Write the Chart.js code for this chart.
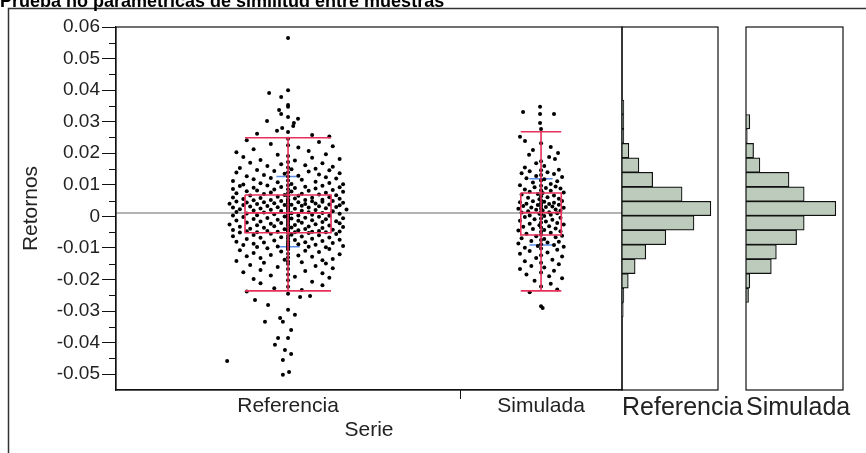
<!DOCTYPE html>
<html>
<head>
<meta charset="utf-8">
<script src="https://cdn.jsdelivr.net/npm/chart.js@4.4.1/dist/chart.umd.min.js"></script>
<style>
	body { margin: 0; background: #fff; }
	#wrap { position: relative; width: 866px; height: 453px; overflow: hidden; }
	canvas { position: absolute; }
</style>
</head>
<body>
<div id="wrap">
	<canvas id="main" width="866" height="453" style="left:0;top:0"></canvas>
	<canvas id="histRef" width="100" height="367" style="left:620px;top:25px"></canvas>
	<canvas id="histSim" width="101" height="367" style="left:744px;top:25px"></canvas>
</div>
<script>
var titleText = 'Prueba no paramétricas de similitud entre muestras';
var categories = ['Referencia', 'Simulada'];
var groupShare = [0.68, 0.32];
var yTicks = [0.06, 0.05, 0.04, 0.03, 0.02, 0.01, 0, -0.01, -0.02, -0.03, -0.04, -0.05];
var yMin = -0.055, yMax = 0.06;

// box plot stats per serie
var q1 = [-0.0052, -0.0059];
var median = [0.0011, 0.0012];
var q3 = [0.0068, 0.0074];
var whiskerLow = [-0.0236, -0.0236];
var whiskerHigh = [0.0249, 0.0268];
var means = [0.0015, 0.0014];
var stdDevs = [0.0111, 0.0105];
var grandMean = 0.0011;

// histogram bins (lower edge) and counts
var histBins = [-0.035, -0.03, -0.025, -0.02, -0.015, -0.01, -0.005, 0, 0.005, 0.01, 0.015, 0.02, 0.025, 0.03, 0.035];
var histRefCounts = [2, 3, 10, 21, 38, 70, 115, 142, 96, 49, 27, 11, 3, 3, 3];
var histSimCounts = [0, 2, 3, 20, 24, 40, 46, 71, 46, 34, 11, 6, 1, 3, 0];
var binWidth = 0.005;

// [jitter, retorno]
var refPoints = [
	[0,0.0565],[-0.055,0.0391],[-0.02,0.0378],[0,0.0400],[0,0.0353],[0,0.0347],[-0.026,0.0337],[-0.02,0.0324],
	[0,0.0315],[-0.061,0.0302],[0.029,0.0309],[0.017,0.0296],[0.015,0.0286],[-0.017,0.0280],[-0.032,0.0271],[0,0.0267],
	[-0.09,0.0262],[0.07,0.0258],[0.12,0.0253],
	[-0.12,0.0241],[0.09,0.0236],[0,0.0246],[-0.05,0.0229],[0.13,0.0222],[0.03,0.0218],[-0.1,0.0213],[0,0.0225],[0.06,0.0207],[-0.15,0.0203],
	[0.11,0.0197],[-0.03,0.0195],[0,0.0191],[-0.13,0.0188],[0.07,0.0186],[0.15,0.0182],[-0.08,0.0179],[0.02,0.0177],[0,0.0172],
	[-0.11,0.0170],[0.1,0.0168],[-0.02,0.0165],[0.05,0.0162],[-0.06,0.0160],[0.13,0.0157],[0,0.0155],[-0.14,0.0153],[0.08,0.0151],
	[0.01,0.0149],[-0.09,0.0147],[0.12,0.0146],[-0.04,0.0144],[0.06,0.0142],[0,0.0140],[-0.15,0.0139],[0.15,0.0137],[-0.01,0.0135],
	[0.09,0.0133],[-0.07,0.0131],[0.03,0.0129],[-0.12,0.0127],[0,0.0126],[0.11,0.0124],[-0.05,0.0122],[0.14,0.0120],[-0.1,0.0118],
	[0.04,0.0116],[0,0.0114],[-0.16,0.0112],[0.08,0.0110],[-0.03,0.0108],[0.12,0.0106],[-0.08,0.0105],[0.01,0.0103],[0.16,0.0102],[-0.13,0.0101],
	[0,0.0099],[-0.06,0.0098],[0.1,0.0097],[-0.14,0.0096],[0.05,0.0094],[-0.02,0.0093],[0.15,0.0092],[-0.1,0.0091],[0.02,0.0090],
	[0.08,0.0088],[-0.16,0.0087],[0,0.0086],[-0.04,0.0085],[0.13,0.0084],[-0.09,0.0082],[0.06,0.0081],[-0.12,0.0080],[0.01,0.0079],
	[0.16,0.0078],[-0.05,0.0076],[0.11,0.0075],[0,0.0074],[-0.15,0.0073],[0.04,0.0072],[-0.07,0.0071],[0.09,0.0069],[-0.01,0.0068],
	[0.14,0.0067],[-0.11,0.0066],[0.03,0.0065],[0,0.0064],[-0.03,0.0062],[0.12,0.0061],[-0.16,0.0060],[0.07,0.0059],[-0.08,0.0058],
	[0.02,0.0057],[0.15,0.0056],[-0.13,0.0055],[0,0.0054],[0.1,0.0053],[-0.05,0.0052],[0.05,0.0052],[-0.1,0.0051],[0,0.0050],
	[0.13,0.0049],[-0.02,0.0049],[0.07,0.0048],[-0.15,0.0047],[0,0.0047],[0.1,0.0046],[-0.07,0.0045],[0.03,0.0045],[-0.12,0.0044],
	[0.16,0.0043],[0,0.0042],[-0.04,0.0042],[0.08,0.0041],[-0.17,0.0040],[0.05,0.0039],[-0.09,0.0039],[0.12,0.0038],[0.01,0.0037],
	[-0.01,0.0036],[-0.13,0.0036],[0.15,0.0035],[0.04,0.0034],[-0.06,0.0033],[0,0.0033],[0.09,0.0032],[-0.11,0.0031],[0.14,0.0030],
	[-0.03,0.0029],[0.06,0.0028],[-0.16,0.0028],[0,0.0027],[0.11,0.0026],[-0.08,0.0025],[0.02,0.0024],[-0.14,0.0023],[0.17,0.0022],
	[0,0.0022],[-0.05,0.0021],[0.08,0.0020],[-0.1,0.0019],[0.04,0.0018],[-0.02,0.0017],[0.13,0.0016],[0,0.0015],[-0.15,0.0014],
	[0.06,0.0013],[-0.07,0.0012],[0.1,0.0011],[0.01,0.0010],[-0.12,0.0009],[0.15,0.0008],[-0.04,0.0007],[0,0.0006],[0.07,0.0005],
	[-0.09,0.0004],[0.03,0.0003],[-0.16,0.0003],[0.12,0.0002],[0,0.0001],[-0.01,0.0000],
	[0.09,-0.0001],[-0.13,-0.0002],[0,-0.0003],[0.05,-0.0004],[-0.06,-0.0005],[0.16,-0.0006],[0.01,-0.0007],[-0.1,-0.0008],[0.11,-0.0009],
	[0,-0.0010],[-0.03,-0.0011],[0.07,-0.0012],[-0.15,-0.0013],[0.03,-0.0014],[0.14,-0.0015],[-0.08,-0.0016],[0,-0.0017],[0.1,-0.0018],
	[-0.12,-0.0019],[0.04,-0.0020],[-0.02,-0.0021],[0.15,-0.0022],[-0.05,-0.0023],[0,-0.0024],[0.08,-0.0025],[-0.17,-0.0026],[0.02,-0.0027],
	[-0.09,-0.0028],[0.12,-0.0029],[0,-0.0030],[-0.04,-0.0031],[0.06,-0.0032],[-0.14,-0.0033],[0.16,-0.0034],[0.01,-0.0035],[-0.07,-0.0036],
	[0.1,-0.0037],[0,-0.0038],[-0.11,-0.0039],[0.05,-0.0040],[-0.01,-0.0041],[0.13,-0.0042],[-0.16,-0.0043],[0.03,-0.0044],[0,-0.0045],
	[-0.06,-0.0046],[0.09,-0.0046],[-0.12,-0.0047],[0.15,-0.0048],[0,-0.0048],[-0.03,-0.0049],[0.07,-0.0049],[-0.09,-0.0050],[0.11,-0.0050],[0.02,-0.0050],
	[-0.14,-0.0051],[0,-0.0052],[0.06,-0.0053],[-0.05,-0.0055],[0.14,-0.0056],[0.01,-0.0058],[-0.1,-0.0059],[0.09,-0.0060],[0,-0.0062],
	[-0.16,-0.0063],[0.04,-0.0064],[-0.02,-0.0066],[0.12,-0.0067],[-0.08,-0.0068],[0,-0.0070],[0.07,-0.0071],[-0.12,-0.0072],[0.15,-0.0074],
	[0.02,-0.0075],[-0.04,-0.0076],[0.1,-0.0078],[0,-0.0079],[-0.15,-0.0080],[0.05,-0.0082],[-0.07,-0.0083],[0.13,-0.0084],[0,-0.0086],
	[-0.1,-0.0087],[0.03,-0.0088],[0.08,-0.0090],[-0.13,-0.0091],[0,-0.0092],[0.16,-0.0094],[-0.03,-0.0095],[0.06,-0.0096],[-0.09,-0.0097],
	[0.11,-0.0098],[0,-0.0099],
	[-0.06,-0.0101],[0.12,-0.0103],[0,-0.0105],[-0.14,-0.0107],[0.05,-0.0109],[-0.02,-0.0111],[0.09,-0.0113],[-0.1,-0.0116],[0,-0.0118],
	[0.15,-0.0120],[-0.05,-0.0122],[0.03,-0.0124],[-0.12,-0.0126],[0.07,-0.0128],[0,-0.0130],[-0.08,-0.0132],[0.13,-0.0135],[-0.01,-0.0137],
	[0.1,-0.0139],[-0.15,-0.0141],[0,-0.0143],[0.04,-0.0145],[-0.07,-0.0147],[0.11,-0.0149],
	[0,-0.0151],[-0.11,-0.0154],[0.08,-0.0157],[-0.03,-0.0160],[0.13,-0.0164],[0,-0.0167],[-0.08,-0.0170],[0.05,-0.0173],[-0.13,-0.0177],
	[0.1,-0.0180],[0,-0.0184],[-0.05,-0.0187],[0.02,-0.0191],[0.12,-0.0194],[-0.1,-0.0198],
	[0,-0.0202],[0.07,-0.0207],[-0.08,-0.0212],[0.1,-0.0218],[0,-0.0223],[-0.04,-0.0228],[0.04,-0.0233],[-0.12,-0.0238],[0,-0.0245],
	[-0.096,-0.0265],[0.035,-0.0255],[-0.058,-0.0281],[0,-0.0296],[-0.023,-0.0322],[-0.067,-0.0334],[-0.015,-0.0334],[0.009,-0.0360],
	[-0.029,-0.0385],[0,-0.0385],[-0.038,-0.0407],[-0.009,-0.0423],[0.009,-0.0436],[-0.015,-0.0455],[-0.177,-0.0458],[0.003,-0.0493],
	[-0.015,-0.0502],[0.064,-0.0252],[0.02,-0.0312]
];

var simPoints = [
	[-0.006,0.0347],[-0.111,0.0331],[-0.006,0.0324],[0.08,0.0324],[-0.006,0.0296],[0,0.0277],[-0.13,0.0252],[-0.099,0.0239],
	[0,0.0232],[0.06,0.0220],[-0.05,0.0210],[-0.074,0.0195],[0.105,0.0201],[0.05,0.0188],[0.086,0.0182],
	[0,0.0175],[-0.03,0.0168],[0.02,0.0160],[-0.1,0.0155],
	[0.11,0.0148],[0,0.0146],[-0.07,0.0143],[0.04,0.0140],[-0.12,0.0137],[0.08,0.0134],[0,0.0131],[-0.03,0.0128],
	[0.13,0.0125],[-0.09,0.0121],[0.02,0.0118],[0,0.0114],[0.1,0.0111],[-0.05,0.0107],[0.06,0.0103],
	[-0.13,0.0099],[0,0.0097],[0.09,0.0095],[-0.04,0.0092],[0.03,0.0090],[0.12,0.0088],[-0.1,0.0085],[0,0.0083],[0.06,0.0081],
	[-0.07,0.0078],[0.14,0.0076],[0.01,0.0074],[-0.02,0.0071],[-0.12,0.0069],[0.08,0.0066],[0,0.0064],[0.04,0.0061],[-0.08,0.0059],
	[0.11,0.0056],[-0.01,0.0054],[0,0.0051],
	[0.13,0.0049],[-0.05,0.0048],[0.02,0.0046],[-0.13,0.0045],[0.08,0.0043],[0,0.0042],[-0.09,0.0040],[0.05,0.0039],[0.11,0.0037],
	[-0.02,0.0036],[0,0.0034],[-0.11,0.0033],[0.07,0.0031],[0.03,0.0030],[-0.06,0.0028],[0.14,0.0027],[0,0.0025],[-0.14,0.0024],
	[0.09,0.0022],[-0.03,0.0021],[0.01,0.0019],[0.12,0.0018],[-0.08,0.0016],[0,0.0015],[0.05,0.0013],[-0.12,0.0012],[0.1,0.0010],
	[-0.01,0.0008],[0,0.0007],[0.06,0.0005],[-0.07,0.0003],[0.02,0.0001],
	[-0.1,-0.0002],[0.12,-0.0004],[0,-0.0007],[-0.04,-0.0009],[0.07,-0.0011],[-0.13,-0.0014],[0.03,-0.0016],[0,-0.0019],[0.1,-0.0021],
	[-0.07,-0.0023],[0.14,-0.0026],[-0.01,-0.0028],[0.05,-0.0031],[-0.11,-0.0033],[0,-0.0035],[0.09,-0.0038],[-0.05,-0.0040],
	[0.02,-0.0043],[-0.14,-0.0045],[0.12,-0.0047],[0,-0.0049],
	[0.06,-0.0052],[-0.09,-0.0055],[0,-0.0058],[0.13,-0.0061],[-0.03,-0.0063],[0.09,-0.0066],[-0.12,-0.0069],[0.02,-0.0072],[0,-0.0075],
	[-0.06,-0.0078],[0.11,-0.0080],[0.04,-0.0083],[-0.14,-0.0086],[0,-0.0088],[0.08,-0.0091],[-0.02,-0.0094],[0.14,-0.0096],[-0.1,-0.0099],
	[0,-0.0102],[0.1,-0.0106],[-0.07,-0.0110],[0.04,-0.0114],[-0.13,-0.0118],[0,-0.0123],[0.13,-0.0127],[-0.03,-0.0132],[0.07,-0.0137],
	[-0.1,-0.0142],[0,-0.0147],
	[0.11,-0.0152],[-0.06,-0.0157],[0.02,-0.0162],[-0.13,-0.0167],[0.08,-0.0172],[0,-0.0178],[-0.09,-0.0184],[0.05,-0.0190],[0.13,-0.0196],
	[-0.04,-0.0204],[0.06,-0.0213],[0,-0.0222],[0.1,-0.0232],[-0.07,-0.0240],
	[0,-0.0285],[0.01,-0.0290]
];

var redBox = '#e8305a';
var blueSd = '#5b8ded';
var histFill = '#bccbbc';
var fontFam = '"Liberation Sans", Arial, sans-serif';

var xMid = [groupShare[0] / 2, groupShare[0] + groupShare[1] / 2];
var xSep = groupShare[0];

function toPoints(list, g) {
	return list.map(function(p) {
		return { x: xMid[g] + p[0] * groupShare[g], y: p[1] };
	});
}

function boxPath(g) {
	var half = 0.125 * groupShare[g];
	var x0 = xMid[g] - half, x1 = xMid[g] + half, c = xMid[g];
	return [
		{x: x0, y: q3[g]}, {x: x1, y: q3[g]}, {x: x1, y: q1[g]}, {x: x0, y: q1[g]}, {x: x0, y: q3[g]}, {x: x0, y: null},
		{x: x0, y: median[g]}, {x: x1, y: median[g]}, {x: x1, y: null},
		{x: x0, y: whiskerHigh[g]}, {x: x1, y: whiskerHigh[g]}, {x: x1, y: null},
		{x: x0, y: whiskerLow[g]}, {x: x1, y: whiskerLow[g]}, {x: x1, y: null},
		{x: c, y: whiskerLow[g]}, {x: c, y: whiskerHigh[g]}
	];
}

function sdPath(g) {
	var half = 0.023;
	var c = xMid[g];
	return [
		{x: c - half, y: means[g] + stdDevs[g]}, {x: c + half, y: means[g] + stdDevs[g]}, {x: c + half, y: null},
		{x: c - half, y: means[g] - stdDevs[g]}, {x: c + half, y: means[g] - stdDevs[g]}
	];
}

function lineSet(data, color, width) {
	return { type: 'scatter', data: data, showLine: true, spanGaps: false, borderColor: color,
		borderWidth: width, pointRadius: 0, fill: false };
}

var framePlugin = {
	id: 'frame',
	afterDraw: function(chart) {
		var a = chart.chartArea, ctx = chart.ctx;
		ctx.save();
		ctx.strokeStyle = '#111';
		ctx.lineWidth = 1.2;
		ctx.strokeRect(a.left, a.top, a.right - a.left, a.bottom - a.top);
		ctx.restore();
	}
};

var decorPlugin = {
	id: 'decor',
	afterDraw: function(chart) {
		var ctx = chart.ctx, y = chart.scales.y;
		ctx.save();
		// minor ticks
		ctx.strokeStyle = '#111';
		ctx.lineWidth = 1;
		for (var i = 0; i < yTicks.length - 1; i++) {
			var py = Math.round(y.getPixelForValue((yTicks[i] + yTicks[i + 1]) / 2)) + 0.5;
			ctx.beginPath();
			ctx.moveTo(chart.chartArea.left - 7, py);
			ctx.lineTo(chart.chartArea.left, py);
			ctx.stroke();
		}
		// outer frame
		ctx.strokeStyle = '#333';
		ctx.lineWidth = 1.5;
		ctx.beginPath();
		ctx.moveTo(8.5, 453);
		ctx.lineTo(8.5, 8.5);
		ctx.lineTo(866, 8.5);
		ctx.stroke();
		// title
		ctx.fillStyle = '#000';
		ctx.font = 'bold 18px ' + fontFam;
		ctx.textBaseline = 'alphabetic';
		ctx.fillText(titleText, 0, 7);
		// histogram labels
		ctx.fillStyle = '#222';
		ctx.font = '25px ' + fontFam;
		ctx.fillText(categories[0], 622, 415);
		ctx.fillText(categories[1], 746, 415);
		ctx.restore();
	}
};

var mainChart = new Chart(document.getElementById('main'), {
	type: 'scatter',
	data: {
		datasets: [
			lineSet(boxPath(0), redBox, 1.6),
			lineSet(boxPath(1), redBox, 1.6),
			{ data: toPoints(refPoints, 0), pointRadius: 2, pointBackgroundColor: '#000', pointBorderWidth: 0 },
			{ data: toPoints(simPoints, 1), pointRadius: 2, pointBackgroundColor: '#000', pointBorderWidth: 0 },
			lineSet(sdPath(0), blueSd, 1.5),
			lineSet(sdPath(1), blueSd, 1.5),
			lineSet([{x: 0, y: grandMean}, {x: 1, y: grandMean}], '#9a9a9a', 1.5)
		]
	},
	options: {
		responsive: false,
		animation: false,
		events: [],
		layout: { padding: { left: 0, top: 27, right: 244, bottom: 0 } },
		scales: {
			x: {
				type: 'linear', min: 0, max: 1,
				afterFit: function(s) { s.height = 63; },
				afterBuildTicks: function(s) { s.ticks = [{value: xMid[0]}, {value: xSep}, {value: xMid[1]}]; },
				ticks: {
					autoSkip: false, maxRotation: 0, padding: -5,
					color: '#222', font: { family: fontFam, size: 21 },
					callback: function(v, i) { return [categories[0], '', categories[1]][i]; }
				},
				grid: {
					drawOnChartArea: false, tickLength: 9,
					color: function(c) { return c.index === 1 ? '#111' : 'rgba(0,0,0,0)'; }
				},
				border: { color: '#111', width: 1.2 },
				title: { display: true, text: 'Serie', color: '#222', font: { family: fontFam, size: 21 }, padding: { top: 0, bottom: 10 } }
			},
			y: {
				type: 'linear', min: yMin, max: yMax,
				afterFit: function(s) { s.width = 116; },
				afterBuildTicks: function(s) { s.ticks = yTicks.map(function(v) { return {value: v}; }); },
				ticks: {
					padding: 2, color: '#222', font: { family: fontFam, size: 19 },
					callback: function(v) { return Math.abs(v) < 1e-9 ? '0' : v.toFixed(2); }
				},
				grid: { drawOnChartArea: false, tickLength: 14, color: '#111' },
				border: { color: '#111', width: 1.2 },
				title: { display: true, text: 'Retornos', color: '#222', font: { family: fontFam, size: 21 }, padding: { top: 19, bottom: 0 } }
			}
		},
		plugins: { legend: { display: false }, tooltip: { enabled: false } }
	},
	plugins: [framePlugin, decorPlugin]
});

function histChart(id, counts) {
	return new Chart(document.getElementById(id), {
		type: 'bar',
		data: {
			datasets: [{
				data: histBins.map(function(b, i) { return { x: counts[i], y: b + binWidth / 2 }; }),
				backgroundColor: histFill,
				borderColor: '#111',
				borderWidth: 1.2,
				borderSkipped: 'start',
				barPercentage: 1,
				categoryPercentage: 1
			}]
		},
		options: {
			indexAxis: 'y',
			responsive: false,
			animation: false,
			events: [],
			layout: { padding: 2 },
			scales: {
				y: { type: 'linear', min: yMin, max: yMax, display: false, ticks: { stepSize: binWidth } },
				x: { type: 'linear', min: 0, max: Math.max.apply(null, counts) * 1.08, display: false }
			},
			plugins: { legend: { display: false }, tooltip: { enabled: false } }
		},
		plugins: [framePlugin]
	});
}

var histRef = histChart('histRef', histRefCounts);
var histSim = histChart('histSim', histSimCounts);
</script>
</body>
</html>
